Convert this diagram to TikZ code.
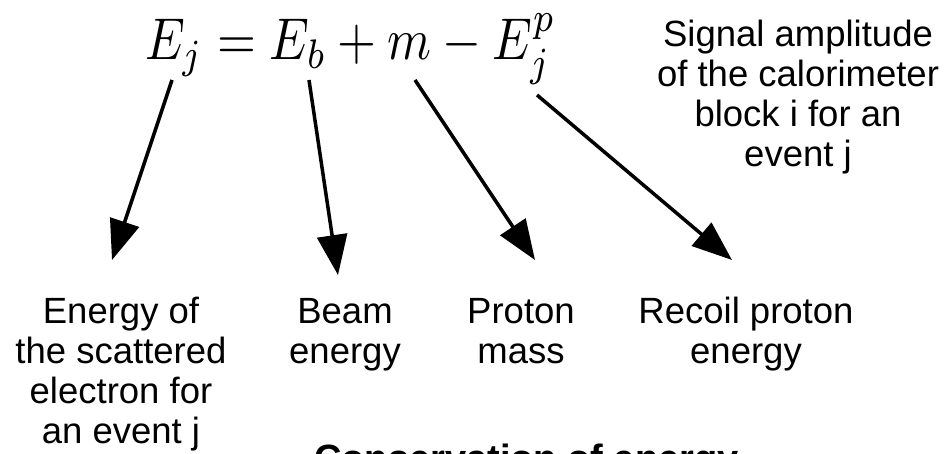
\documentclass[tikz,border=0pt]{standalone}
\usepackage{fontspec}
\setmainfont{Liberation Sans}
\usetikzlibrary{arrows.meta}
\tikzset{
  lbl/.style={align=center, font=\fontsize{36.5}{40}\selectfont, inner sep=0pt},
  ptr/.style={-{Triangle[length=40pt,width=30pt]}, line width=3.5pt}
}
\begin{document}
\begin{tikzpicture}[x=1pt, y=-1pt]
            \useasboundingbox (0,0) rectangle (948,454);
            \node[anchor=base west, inner sep=0pt] (eq) at (145,60) {\scalebox{5.0}[5.9]{$E_j = E_b + m - E_j^p$}};
            \node[lbl, anchor=base] (scat) at (121,443) {Energy of\\the scattered\\electron for\\an event j};
            \node[lbl, anchor=base] (beam) at (345,363) {Beam\\energy};
            \node[lbl, anchor=base] (mass) at (521,363) {Proton\\mass};
            \node[lbl, anchor=base] (recoil) at (746,363) {Recoil proton\\energy};
            \node[lbl, anchor=base] (signal) at (798,167) {Signal amplitude\\of the calorimeter\\block i for an\\event j};
            \node[anchor=base west, inner sep=0pt, font=\fontsize{38}{40}\selectfont\bfseries] (title) at (314,471) {Conservation of energy};
            \coordinate (ej) at (172,80);
            \coordinate (eb) at (309,80);
            \coordinate (mm) at (415,80);
            \coordinate (ep) at (537,95);
            \coordinate (scattip) at (112,260);
            \coordinate (beamtip) at (338,275);
            \coordinate (masstip) at (535,260);
            \coordinate (recoiltip) at (732,260);
            \draw[ptr] (ej) -- (scattip);
            \draw[ptr] (eb) -- (beamtip);
            \draw[ptr] (mm) -- (masstip);
            \draw[ptr] (ep) -- (recoiltip);
        \end{tikzpicture}
\end{document}
